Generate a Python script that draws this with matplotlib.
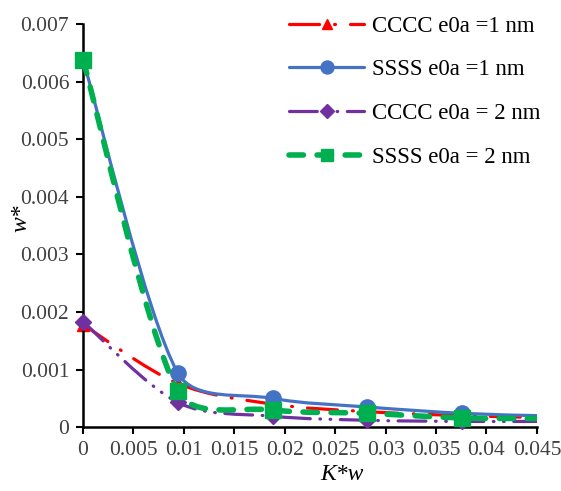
import numpy as np
import matplotlib.pyplot as plt
from matplotlib.path import Path
from matplotlib.patches import PathPatch
from matplotlib.lines import Line2D

# data
k_w = [0.0, 0.0094, 0.0188, 0.0282, 0.0376, 0.045]
cccc_1nm = [0.00178, 0.00076, 0.00040, 0.00027, 0.00020, 0.00017]
ssss_1nm = [0.00638, 0.00094, 0.00050, 0.00035, 0.00024, 0.00020]
cccc_2nm = [0.00183, 0.00043, 0.00019, 0.00012, 0.00010, 0.00010]
ssss_2nm = [0.00638, 0.00062, 0.00030, 0.00024, 0.00016, 0.00015]

labels = ["CCCC e0a =1 nm", "SSSS e0a =1 nm", "CCCC e0a = 2 nm", "SSSS e0a = 2 nm"]
colors = ["#FF0000", "#4472C4", "#7030A0", "#00B050"]
markers = ["^", "o", "D", "s"]
msizes = [9, 11, 8, 11]
widths = [2.3, 2.3, 2.3, 4.0]
dashes = [(0, (9.4, 4.7, 0.3, 4.7)), "solid", (0, (8.7, 3, 0.2, 3, 0.2, 3)), (0, (2.6, 2.45))]

plt.rcParams['font.family'] = ['Liberation Serif', 'DejaVu Serif']

# pixel scale of the axes, used so the smoothing works in screen space
XPX = 454 / 0.045
YPX = 57.6 / 0.001


# smooth curve like Excel "smoothed line": cubic bezier segments through the points,
# tangent from the neighbours, handle length limited by the adjacent segment
def smooth_path(xs, ys):
    pts = np.column_stack([xs, ys])
    n = len(pts)
    scr = pts * [XPX, YPX]
    out_c = []
    in_c = []
    for i in range(n):
        a = max(i - 1, 0)
        b = min(i + 1, n - 1)
        t = scr[b] - scr[a]
        tl = np.hypot(*t)
        u = t / tl
        d_prev = np.hypot(*(scr[i] - scr[a]))
        d_next = np.hypot(*(scr[b] - scr[i]))
        l_out = min(tl / 6, d_next / 3)
        l_in = min(tl / 6, d_prev / 3)
        out_c.append((scr[i] + u * l_out) / [XPX, YPX])
        in_c.append((scr[i] - u * l_in) / [XPX, YPX])
    verts = [pts[0]]
    codes = [Path.MOVETO]
    for i in range(n - 1):
        verts += [out_c[i], in_c[i + 1], pts[i + 1]]
        codes += [Path.CURVE4] * 3
    return Path(verts, codes)


fig = plt.figure(figsize=(5.61, 4.91), dpi=100)
ax = fig.add_axes([0.148, 0.130, 0.809, 0.821])

series = [cccc_1nm, ssss_1nm, cccc_2nm, ssss_2nm]
handles = []
for i, ys in enumerate(series):
    patch = PathPatch(smooth_path(k_w, ys), facecolor="none", edgecolor=colors[i],
                      lw=widths[i], linestyle=dashes[i], capstyle="round",
                      joinstyle="round", zorder=2 + i)
    ax.add_patch(patch)
    ax.plot(k_w[:-1], ys[:-1], linestyle="none", marker=markers[i], ms=msizes[i],
            color=colors[i], zorder=2 + i, clip_on=False)
    handles.append(Line2D([], [], color=colors[i], lw=widths[i], linestyle=dashes[i],
                          marker=markers[i], ms=msizes[i] * 0.85,
                          dash_capstyle="round", solid_capstyle="round"))

ax.set_xlim(0, 0.045)
ax.set_ylim(0, 0.007)
ax.set_xticks(np.arange(0, 0.0451, 0.005))
ax.set_xticklabels(["0", "0.005", "0.01", "0.015", "0.02", "0.025", "0.03",
                    "0.035", "0.04", "0.045"])
ax.set_yticks(np.arange(0, 0.00701, 0.001))
ax.set_yticklabels(["0", "0.001", "0.002", "0.003", "0.004", "0.005", "0.006", "0.007"])

for s in ["top", "right"]:
    ax.spines[s].set_visible(False)
for s in ["left", "bottom"]:
    ax.spines[s].set_linewidth(1.8)
ax.tick_params(direction="out", length=5, width=1.5, labelsize=15.5,
               labelcolor="#404040", pad=5)

fig.text(0.038, 0.556, "w*", rotation=90, style="italic", fontsize=17,
         ha="center", va="center")
fig.text(0.61, 0.033, "K*w", style="italic", fontsize=17, ha="center", va="center")

ax.legend(handles, labels, loc="upper left", bbox_to_anchor=(0.408, 1.072),
          frameon=False, fontsize=16.5, handlelength=3.3, labelspacing=0.99,
          handletextpad=0.35, numpoints=1)

fig.savefig("out.png", dpi=100)
